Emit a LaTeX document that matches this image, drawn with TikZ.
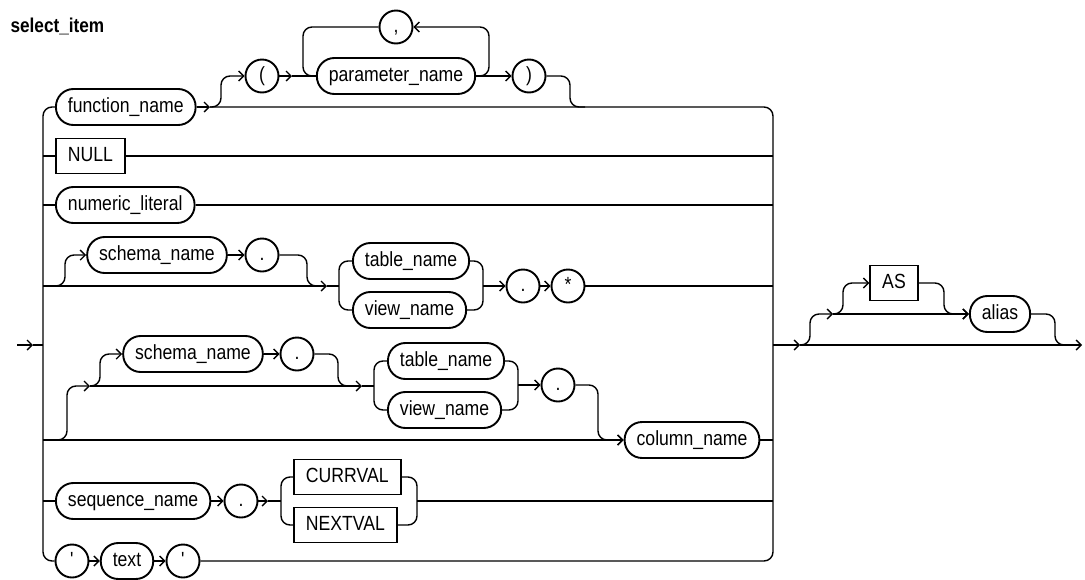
\documentclass[tikz,border=0pt]{standalone}
\usepackage{fontspec}
\setmainfont{Liberation Sans}
\newfontfamily\railfont{Liberation Sans}[FakeStretch=0.86]
\usetikzlibrary{arrows.meta}
\tikzset{
  box/.style={draw, line width=1.9pt, minimum height=36pt, inner xsep=12pt, inner ysep=0pt,
    text height=14.5pt, text depth=4pt, font=\railfont\fontsize{20.5}{24}\selectfont},
  nterm/.style={box, rectangle, rounded corners=17.5pt},
  kword/.style={box, rectangle, minimum height=35pt},
  tok/.style={box, circle, minimum size=33pt, inner xsep=0pt},
  rail/.style={line width=1.4pt, rounded corners=9pt},
  go/.style={rail, -{Straight Barb[length=5pt,width=10pt]}},
}

\begin{document}
\begin{tikzpicture}[x=1pt,y=-1pt]
\useasboundingbox (0,0) rectangle (1085,579);
\node[anchor=base west, font=\railfont\bfseries\fontsize{20}{24}\selectfont] (ttl) at (7,32) {select\_item};
\node[nterm, anchor=west] (fn) at (55,107) {function\_name};
\node[tok] (lpar) at (262,76) {(};
\node[nterm] (param) at (396,76) {parameter\_name};
\node[tok] (comma) at (396,27) {,};
\node[tok] (rpar) at (529,76) {)};
\node[kword, anchor=west] (null) at (55,156) {NULL};
\node[nterm, anchor=west] (numlit) at (55,205) {numeric\_literal};
\node[nterm] (schA) at (157,255) {schema\_name};
\node[tok] (dotA) at (262,255) {.};
\node[nterm, anchor=west] (tabA) at (352,261) {table\_name};
\node[nterm, anchor=west] (viewA) at (352,310) {view\_name};
\node[tok] (dotAA) at (523,286) {.};
\node[tok] (star) at (568,286) {*};
\node[nterm] (schB) at (193,354) {schema\_name};
\node[tok] (dotB) at (297,354) {.};
\node[nterm, anchor=west] (tabB) at (387,361) {table\_name};
\node[nterm, anchor=west] (viewB) at (387,410) {view\_name};
\node[tok] (dotBB) at (558,385) {.};
\node[nterm] (col) at (692,440) {column\_name};
\node[nterm, anchor=west] (seq) at (55,501) {sequence\_name};
\node[tok] (dotC) at (241,501) {.};
\node[kword, anchor=west] (curr) at (293,477) {CURRVAL};
\node[kword, anchor=west] (next) at (293,525) {NEXTVAL};
\node[tok] (qa) at (72,561) {\textquotesingle};
\node[nterm] (txt) at (127,561) {text};
\node[tok] (qb) at (183,561) {\textquotesingle};
\node[kword] (as) at (894,283) {AS};
\node[nterm] (alias) at (1000,314) {alias};
\coordinate (lr) at (43,0);
\coordinate (rr) at (773,0);
\coordinate (start) at (17,345);
\coordinate (ent) at (33,345);
\coordinate (fj) at (210,107);
\coordinate (pj) at (292,76);
\coordinate (ja) at (327,286);
\coordinate (jb) at (90,386);
\coordinate (jb2) at (362,386);
\coordinate (jc) at (268,501);
\coordinate (jx) at (800,345);
\coordinate (jy) at (833,314);
\coordinate (stop) at (1082,345);
% choice rails
\draw[go] (start) -- (ent);
\draw[rail] (ent) -- (start -| lr);
\draw[rail] (fn.west) -- (fn.west -| lr) -- (qa.west -| lr) -- (qa.west);
\draw[go] (fn.east) -- (fj);
\draw[rail] (fj) -- (fj -| rr) -- (qb.east -| rr) -- (qb.east);
% function call
\draw[go] (fj) -| (221,76) -- (lpar.west);
\draw[go] (lpar.east) -- (pj);
\draw[rail] (pj) -- (param.west);
\draw[go] (param.east) -- (rpar.west);
\draw[go] (param.east) -- (489,76) -- (489,27) -- (comma.east);
\draw[rail] (comma.west) -- (303,27) -- (303,76) -- (param.west);
\draw[rail] (rpar.east) -- (570,76) -- (570,107) -- (585,107);
\draw[rail] (null.west -| lr) -- (null.west);
\draw[rail] (null.east) -- (null.east -| rr);
\draw[rail] (numlit.west -| lr) -- (numlit.west);
\draw[rail] (numlit.east) -- (numlit.east -| rr);
% schema.table.*
\draw[go] (lr |- ja) -- (ja);
\draw[rail] (ja) -- (339,286);
\draw[go] (lr |- ja) -| (65,255) -- (schA.west);
\draw[go] (schA.east) -- (dotA.west);
\draw[rail] (dotA.east) -- (307,255) -- (307,286) -- (320,286);
\draw[rail] (tabA.west) -- (339,261) -- (339,310) -- (viewA.west);
\draw[rail] (tabA.east) -- (483,261) -- (483,310) -- (viewA.east);
\draw[go] (483,286) -- (dotAA.west);
\draw[go] (dotAA.east) -- (star.west);
\draw[rail] (star.east) -- (star.east -| rr);
% schema.table.column
\draw[go] (lr |- col.west) -- (col.west);
\draw[go] (lr |- col.west) -| (67,386) -- (jb);
\draw[go] (jb) -- (jb2);
\draw[rail] (jb2) -- (374,386);
\draw[go] (jb) -| (100,354) -- (schB.west);
\draw[go] (schB.east) -- (dotB.west);
\draw[rail] (dotB.east) -- (338,354) -- (338,386) -- (350,386);
\draw[rail] (tabB.west) -- (374,361) -- (374,410) -- (viewB.west);
\draw[rail] (tabB.east) -- (518,361) -- (518,410) -- (viewB.east);
\draw[go] (518,385) -- (dotBB.west);
\draw[go] (dotBB.east) -- (598,385) -- (598,440) -- (col.west);
\draw[rail] (col.east) -- (col.east -| rr);
% sequence
\draw[rail] (lr |- seq.west) -- (seq.west);
\draw[go] (seq.east) -- (dotC.west);
\draw[go] (dotC.east) -- (jc);
\draw[rail] (jc) -- (281,501);
\draw[rail] (curr.west) -- (281,477) -- (281,525) -- (next.west);
\draw[rail] (curr.east) -- (417,477) -- (417,525) -- (next.east);
\draw[rail] (417,501) -- (rr |- jc);
\draw[go] (qa.east) -- (txt.west);
\draw[go] (txt.east) -- (qb.west);
% alias
\draw[go] (rr |- jx) -- (jx);
\draw[go] (jx) -- (stop);
\draw[go] (jx) -| (810,314) -- (jy);
\draw[go] (jy) -- (alias.west);
\draw[go] (jy) -| (843,283) -- (as.west);
\draw[go] (as.east) -- (944,283) -- (944,314) -- (alias.west);
\draw[rail] (alias.east) -- (1055,314) -- (1055,345) -- (1068,345);
\end{tikzpicture}
\end{document}
